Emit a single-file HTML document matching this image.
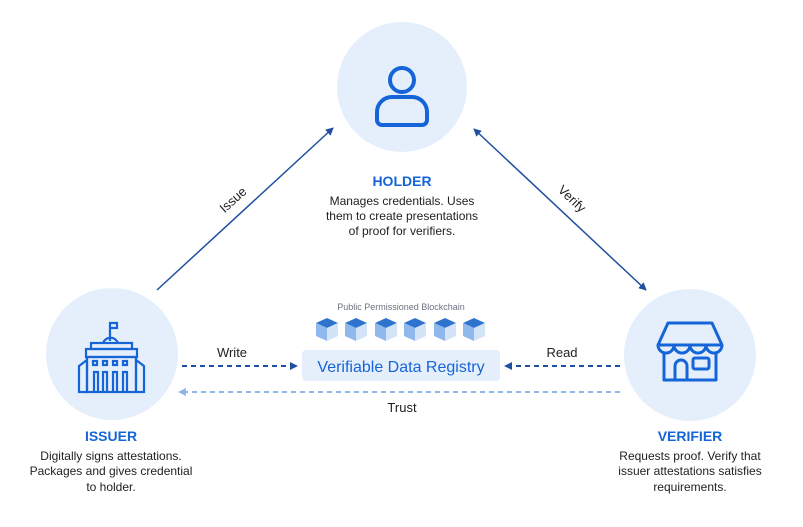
<!DOCTYPE html>
<html><head><style>
body{margin:0;background:#fff;}
svg{display:block;font-family:"Liberation Sans",sans-serif;}
</style></head><body>
<svg width="803" height="527" viewBox="0 0 803 527">
<defs>
<marker id="a" markerWidth="8" markerHeight="8" refX="7" refY="4" orient="auto" markerUnits="userSpaceOnUse"><path d="M0,0L8,4L0,8z" fill="#1f4fa0"/></marker>
<marker id="as" markerWidth="8" markerHeight="8" refX="1" refY="4" orient="auto" markerUnits="userSpaceOnUse"><path d="M8,0L0,4L8,8z" fill="#1f4fa0"/></marker>
<marker id="al" markerWidth="8" markerHeight="8" refX="7" refY="4" orient="auto" markerUnits="userSpaceOnUse"><path d="M0,0L8,4L0,8z" fill="#8fb6e8"/></marker>
<g id="cube"><path d="M0,5L11,0L22,5L11,10z" fill="#2e74cf"/><path d="M0,5L11,10L11,23L0,18z" fill="#8fb8ec"/><path d="M22,5L11,10L11,23L22,18z" fill="#d3e4f8"/></g>
</defs>
<circle cx="402" cy="87" r="65" fill="#e5effb"/>
<circle cx="112" cy="354" r="66" fill="#e5effb"/>
<circle cx="690" cy="355" r="66" fill="#e5effb"/>
<!-- holder icon -->
<g fill="none" stroke="#1565d8" stroke-width="4" stroke-linecap="round" stroke-linejoin="round">
<circle cx="402" cy="80" r="12"/>
<path d="M377,120v-8a15,15 0 0 1 15,-15h20a15,15 0 0 1 15,15v8a5,5 0 0 1-5,5h-40a5,5 0 0 1-5,-5z"/>
</g>
<!-- issuer icon -->
<g fill="none" stroke="#1565d8" stroke-width="2.2">
<path d="M110,341v-18h7v5h-7"/>
<path d="M103,343a8,8 0 0 1 15,0"/>
<rect x="91" y="343" width="41" height="6"/>
<rect x="86" y="349" width="51" height="8"/>
<path d="M79,366l8,-6v32h-8zM144,366l-8,-6v32h8z"/>
<rect x="87" y="357" width="49" height="35"/>
<rect x="93" y="361" width="4" height="4"/><rect x="103" y="361" width="4" height="4"/><rect x="113" y="361" width="4" height="4"/><rect x="123" y="361" width="4" height="4"/>
<path d="M94,392v-20h4v20M103,392v-20h4v20M113,392v-20h4v20M123,392v-20h4v20"/>
</g>
<!-- verifier icon -->
<g fill="none" stroke="#1565d8" stroke-width="3" stroke-linejoin="round">
<path d="M668,323h44l10,22h-64z"/>
<path d="M658,345a7,7 0 0 0 16,0a8,8 0 0 0 16,0a8,8 0 0 0 16,0a8,8 0 0 0 16,0"/>
<path d="M664,352v28h52v-28"/>
<path d="M675,380v-14a6,6 0 0 1 12,0v14"/>
<rect x="693" y="358" width="16" height="11" rx="2"/>
</g>
<!-- arrows -->
<line x1="157" y1="290" x2="333" y2="128" stroke="#1f4fa0" stroke-width="1.5" marker-end="url(#a)"/>
<line x1="474" y1="129" x2="646" y2="290" stroke="#1f4fa0" stroke-width="1.5" marker-end="url(#a)" marker-start="url(#as)"/>
<line x1="182" y1="366" x2="297" y2="366" stroke="#1f4fa0" stroke-width="2" stroke-dasharray="5,4" marker-end="url(#a)"/>
<line x1="620" y1="366" x2="505" y2="366" stroke="#1f4fa0" stroke-width="2" stroke-dasharray="5,4" marker-end="url(#a)"/>
<line x1="620" y1="392" x2="179" y2="392" stroke="#8fb6e8" stroke-width="2" stroke-dasharray="5,4" marker-end="url(#al)"/>
<text x="232" y="357" font-size="13" fill="#222" text-anchor="middle">Write</text>
<text x="562" y="357" font-size="13" fill="#222" text-anchor="middle">Read</text>
<text x="402" y="412" font-size="13" fill="#222" text-anchor="middle">Trust</text>
<text transform="translate(236,203) rotate(-42)" font-size="13" fill="#222" text-anchor="middle">Issue</text>
<text transform="translate(569,202) rotate(43)" font-size="13" fill="#222" text-anchor="middle">Verify</text>
<!-- registry -->
<text x="401" y="310" font-size="9" fill="#6b7280" text-anchor="middle">Public Permissioned Blockchain</text>
<use href="#cube" x="316" y="318"/><use href="#cube" x="345" y="318"/><use href="#cube" x="375" y="318"/><use href="#cube" x="404" y="318"/><use href="#cube" x="434" y="318"/><use href="#cube" x="463" y="318"/>
<rect x="302" y="350" width="198" height="31" rx="4" fill="#e5effb"/>
<text x="401" y="372" font-size="16" fill="#1565d8" text-anchor="middle">Verifiable Data Registry</text>
<!-- labels -->
<g font-size="12" fill="#222" text-anchor="middle">
<text x="402" y="186" font-size="14" font-weight="bold" fill="#1565d8">HOLDER</text>
<text x="402" y="205">Manages credentials. Uses</text>
<text x="402" y="220">them to create presentations</text>
<text x="402" y="235">of proof for verifiers.</text>
<text x="111" y="441" font-size="14" font-weight="bold" fill="#1565d8">ISSUER</text>
<text x="111" y="460">Digitally signs attestations.</text>
<text x="111" y="475">Packages and gives credential</text>
<text x="111" y="491">to holder.</text>
<text x="690" y="441" font-size="14" font-weight="bold" fill="#1565d8">VERIFIER</text>
<text x="690" y="460">Requests proof. Verify that</text>
<text x="690" y="475">issuer attestations satisfies</text>
<text x="690" y="491">requirements.</text>
</g>
</svg>
</body></html>
